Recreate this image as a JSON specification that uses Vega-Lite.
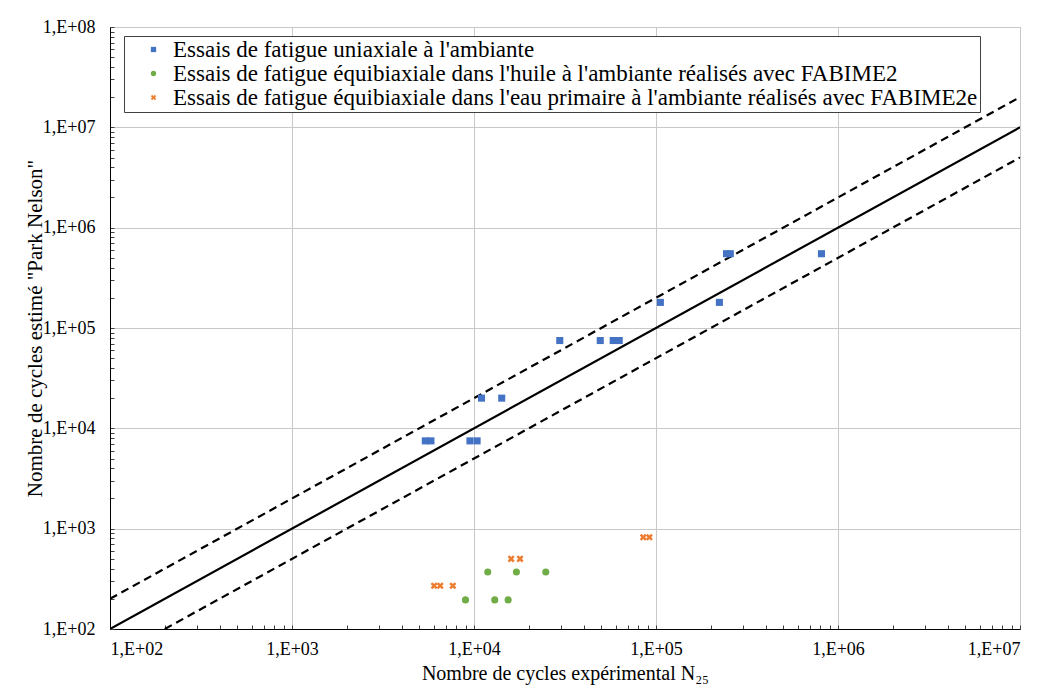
{
  "$schema": "https://vega.github.io/schema/vega-lite/v6.json",
  "width": 910,
  "height": 602,
  "autosize": "none",
  "padding": {"left": 110, "top": 27, "right": 21, "bottom": 59},
  "background": "white",
  "config": {
    "view": {"stroke": "#bfbfbf"},
    "font": "Liberation Serif"
  },
  "encoding": {
    "x": {
      "field": "x", "type": "quantitative",
      "scale": {"type": "log", "domain": [100, 10000000], "nice": false},
      "axis": {
        "values": [100,200,300,400,500,600,700,800,900,1000,2000,3000,4000,5000,6000,7000,8000,9000,10000,20000,30000,40000,50000,60000,70000,80000,90000,100000,200000,300000,400000,500000,600000,700000,800000,900000,1000000,2000000,3000000,4000000,5000000,6000000,7000000,8000000,9000000,10000000],
        "labelExpr": "abs(log(datum.value)/LN10 - round(log(datum.value)/LN10)) < 0.000001 ? '1,E+0' + round(log(datum.value)/LN10) : ''",
        "labelOverlap": false,
        "labelFont": "Liberation Serif", "labelFontSize": 18, "labelColor": "black",
        "labelPadding": 15,
        "tickSize": -4, "tickColor": "#404040",
        "domainColor": "black",
        "grid": true, "gridColor": "#c8c8c8",
        "gridOpacity": {"condition": {"test": "abs(log(datum.value)/LN10 - round(log(datum.value)/LN10)) < 0.000001", "value": 1}, "value": 0},
        "title": "Nombre de cycles expérimental N₂₅",
        "titleFont": "Liberation Serif", "titleFontSize": 20, "titleFontWeight": "normal", "titleColor": "black",
        "titlePadding": 5
      }
    },
    "y": {
      "field": "y", "type": "quantitative",
      "scale": {"type": "log", "domain": [100, 100000000], "nice": false},
      "axis": {
        "values": [100,200,300,400,500,600,700,800,900,1000,2000,3000,4000,5000,6000,7000,8000,9000,10000,20000,30000,40000,50000,60000,70000,80000,90000,100000,200000,300000,400000,500000,600000,700000,800000,900000,1000000,2000000,3000000,4000000,5000000,6000000,7000000,8000000,9000000,10000000,20000000,30000000,40000000,50000000,60000000,70000000,80000000,90000000,100000000],
        "labelExpr": "abs(log(datum.value)/LN10 - round(log(datum.value)/LN10)) < 0.000001 ? '1,E+0' + round(log(datum.value)/LN10) : ''",
        "labelOverlap": false,
        "labelFont": "Liberation Serif", "labelFontSize": 18, "labelColor": "black",
        "labelPadding": 19,
        "tickSize": -4, "tickColor": "#404040",
        "domainColor": "black",
        "grid": true, "gridColor": "#c8c8c8",
        "gridOpacity": {"condition": {"test": "abs(log(datum.value)/LN10 - round(log(datum.value)/LN10)) < 0.000001", "value": 1}, "value": 0},
        "title": "Nombre de cycles estimé \"Park Nelson\"",
        "titleFont": "Liberation Serif", "titleFontSize": 21, "titleFontWeight": "normal", "titleColor": "black",
        "titlePadding": -3
      }
    }
  },
  "layer": [
    {
      "data": {"values": [
        {"k": "solid", "x": 100, "y": 100},
        {"k": "solid", "x": 10000000, "y": 10000000}
      ]},
      "mark": {"type": "line", "color": "black", "strokeWidth": 2.2, "clip": true},
      "encoding": {}
    },
    {
      "data": {"values": [
        {"k": "upper", "x": 100, "y": 200},
        {"k": "upper", "x": 10000000, "y": 20000000},
        {"k": "lower", "x": 200, "y": 100},
        {"k": "lower", "x": 10000000, "y": 5000000}
      ]},
      "mark": {"type": "line", "color": "black", "strokeWidth": 2.2, "strokeDash": [8, 5], "clip": true},
      "encoding": {
        "detail": {"field": "k", "type": "nominal"}
      }
    },
    {
      "data": {"values": [
        {"s": "U", "x": 5400, "y": 7500},
        {"s": "U", "x": 5800, "y": 7500},
        {"s": "U", "x": 9500, "y": 7500},
        {"s": "U", "x": 10400, "y": 7500},
        {"s": "U", "x": 11000, "y": 20000},
        {"s": "U", "x": 14200, "y": 20000},
        {"s": "U", "x": 29600, "y": 75000},
        {"s": "U", "x": 49400, "y": 75000},
        {"s": "U", "x": 58200, "y": 75000},
        {"s": "U", "x": 62800, "y": 75000},
        {"s": "U", "x": 105700, "y": 180000},
        {"s": "U", "x": 223000, "y": 180000},
        {"s": "U", "x": 244000, "y": 550000},
        {"s": "U", "x": 256000, "y": 550000},
        {"s": "U", "x": 811000, "y": 550000},
        {"s": "H", "x": 11900, "y": 370},
        {"s": "H", "x": 17100, "y": 370},
        {"s": "H", "x": 24800, "y": 370},
        {"s": "H", "x": 8980, "y": 195},
        {"s": "H", "x": 13000, "y": 195},
        {"s": "H", "x": 15400, "y": 195},
        {"s": "E", "x": 6040, "y": 270},
        {"s": "E", "x": 6520, "y": 270},
        {"s": "E", "x": 7650, "y": 270},
        {"s": "E", "x": 16000, "y": 500},
        {"s": "E", "x": 17900, "y": 500},
        {"s": "E", "x": 85100, "y": 820},
        {"s": "E", "x": 91900, "y": 820}
      ]},
      "mark": {"type": "point", "filled": true, "size": 50, "opacity": 1},
      "encoding": {
        "color": {
          "field": "s", "type": "nominal",
          "scale": {"domain": ["U", "H", "E"], "range": ["#4472C4", "#70AD47", "#ED7D31"]},
          "legend": {
            "title": null, "orient": "none", "legendX": 14, "legendY": 9,
            "fillColor": "white", "strokeColor": "#404040",
            "padding": 2, "labelFont": "Liberation Serif", "labelFontSize": 23, "labelColor": "black",
            "symbolSize": 28, "rowPadding": -1, "labelOffset": 8, "symbolOffset": 16, "labelLimit": 1000,
            "labelExpr": "datum.value == 'U' ? 'Essais de fatigue uniaxiale à l\\'ambiante' : datum.value == 'H' ? 'Essais de fatigue équibiaxiale dans l\\'huile à l\\'ambiante réalisés avec FABIME2' : 'Essais de fatigue équibiaxiale dans l\\'eau primaire à l\\'ambiante réalisés avec FABIME2e'"
          }
        },
        "shape": {
          "field": "s", "type": "nominal",
          "scale": {"domain": ["U", "H", "E"], "range": ["square", "circle", "M-1,-0.5L-0.5,-1L0,-0.5L0.5,-1L1,-0.5L0.5,0L1,0.5L0.5,1L0,0.5L-0.5,1L-1,0.5L-0.5,0Z"]},
          "legend": {
            "title": null, "orient": "none", "legendX": 14, "legendY": 9,
            "fillColor": "white", "strokeColor": "#404040",
            "padding": 2, "labelFont": "Liberation Serif", "labelFontSize": 23, "labelColor": "black",
            "symbolSize": 28, "rowPadding": -1, "labelOffset": 8, "symbolOffset": 16, "labelLimit": 1000,
            "labelExpr": "datum.value == 'U' ? 'Essais de fatigue uniaxiale à l\\'ambiante' : datum.value == 'H' ? 'Essais de fatigue équibiaxiale dans l\\'huile à l\\'ambiante réalisés avec FABIME2' : 'Essais de fatigue équibiaxiale dans l\\'eau primaire à l\\'ambiante réalisés avec FABIME2e'"
          }
        }
      }
    }
  ]
}
